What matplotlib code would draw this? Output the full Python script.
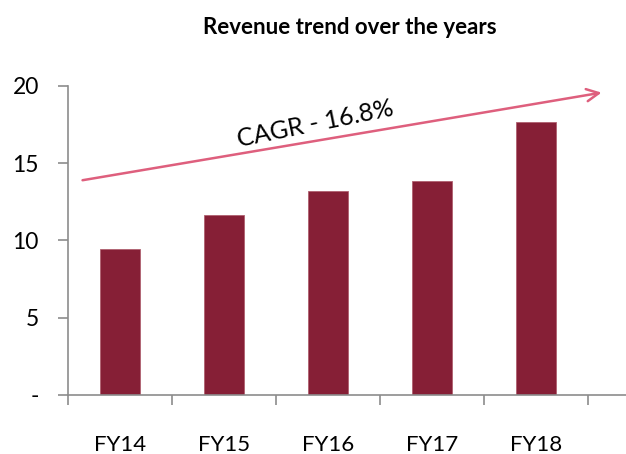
import matplotlib.pyplot as plt

# revenue by financial year
years = ['FY14', 'FY15', 'FY16', 'FY17', 'FY18']
revenue = [9.43, 11.63, 13.18, 13.83, 17.69]
y_ticks = [0, 5, 10, 15, 20]
y_labels = ['-', '5', '10', '15', '20']

plt.rcParams['font.family'] = ['Lato', 'DejaVu Sans']

fig = plt.figure(figsize=(6.26, 4.54), dpi=100)
ax = fig.add_axes([0.1086, 0.130, 0.8914, 0.6806])

x = range(len(years))
ax.bar(x, revenue, width=0.39, color='#861F36', edgecolor='#B06070', linewidth=0.6)

ax.set_xlim(-0.5, 4.865)
ax.set_ylim(0, 20)

# category boundary ticks on x axis
ax.set_xticks([i - 0.5 for i in range(len(years) + 1)])
ax.set_xticklabels([])
ax.set_xticks(list(x), minor=True)
ax.set_xticklabels(years, minor=True, fontsize=16)
ax.tick_params(axis='x', which='minor', length=0, pad=29)
ax.tick_params(axis='x', which='major', length=7, width=1.2, color='#8C8C8C')

ax.set_yticks(y_ticks)
ax.set_yticklabels(y_labels, fontsize=16.5)
ax.tick_params(axis='y', length=7, width=1.2, color='#8C8C8C', pad=14)

for s in ['top', 'right']:
    ax.spines[s].set_visible(False)
for s in ['left', 'bottom']:
    ax.spines[s].set_color('#8C8C8C')
    ax.spines[s].set_linewidth(1.2)

# CAGR arrow
ax.annotate('', xy=(4.63, 19.57), xytext=(-0.36, 13.9),
            arrowprops=dict(arrowstyle='->', color='#DE5F7D', lw=1.8,
                            mutation_scale=22, shrinkA=0, shrinkB=0))
ax.text(1.88, 17.55, 'CAGR - 16.8%', fontsize=18, rotation=11.5,
        ha='center', va='center')

fig.text(0.559, 0.94, 'Revenue trend over the years', fontsize=16,
         fontweight='bold', ha='center', va='center')

fig.savefig('out.png', dpi=100)
